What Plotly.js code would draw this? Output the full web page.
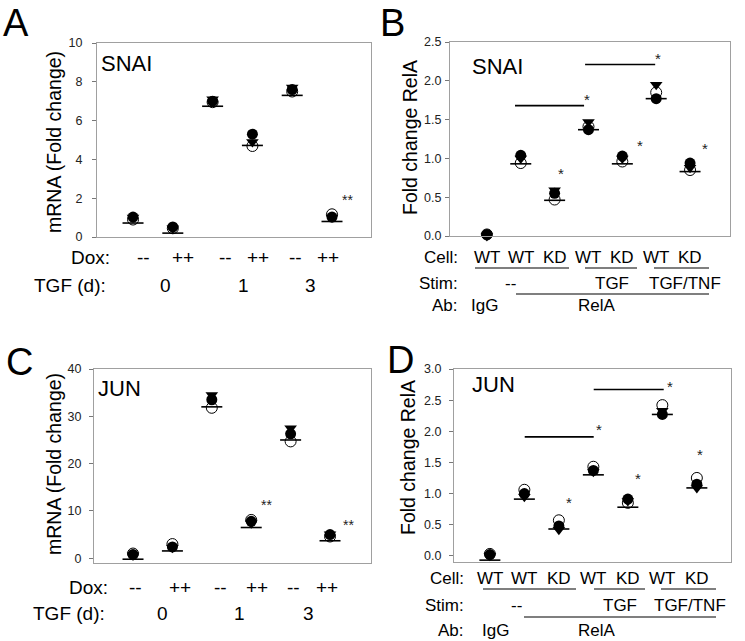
<!DOCTYPE html>
<html><head><meta charset="utf-8">
<script src="https://cdn.plot.ly/plotly-3.0.1.min.js"></script>
<style>html,body{margin:0;padding:0;background:#fff}</style>
</head><body><div id="chart" style="width:745px;height:641px"></div>
<script>
// ---------- categories / tick labels ----------
const doxLabels = ['--', '++', '--', '++', '--', '++'];
const tgfDays = ['0', '1', '3'];
const cellLabels = ['WT', 'WT', 'KD', 'WT', 'KD', 'WT', 'KD'];
const stimLabels = ['--', 'TGF', 'TGF/TNF'];
const abLabels = ['IgG', 'RelA'];
const yTicksA = [0, 2, 4, 6, 8, 10];
const yTicksB = [0, 0.5, 1.0, 1.5, 2.0, 2.5];
const yTicksC = [0, 10, 20, 30, 40];
const yTicksD = [0, 0.5, 1.0, 1.5, 2.0, 2.5, 3.0];

// ---------- Panel A: SNAI mRNA (fold change), replicates ----------
const snaiMrnaFilledCircle = [1.03, 0.52, 7.0, 5.3, 7.6, 1.03];
const snaiMrnaOpenCircle   = [0.9, 0.45, 6.95, 4.69, 7.5, 1.17];
const snaiMrnaTriangle     = [1.0, 0.45, 7.1, 4.9, 7.7, 1.0];
const snaiMrnaBar          = [0.72, 0.2, 6.74, 4.72, 7.3, 0.8];

// ---------- Panel B: SNAI fold change RelA ----------
const snaiRelaFilledCircle = [0.02, 1.04, 0.55, 1.37, 1.03, 1.77, 0.94];
const snaiRelaOpenCircle   = [0.02, 0.94, 0.47, 1.41, 0.96, 1.85, 0.85];
const snaiRelaTriangle     = [0.0, 1.0, 0.59, 1.47, 1.0, 1.95, 0.88];
const snaiRelaBar          = [-0.05, 0.93, 0.46, 1.37, 0.93, 1.77, 0.83];

// ---------- Panel C: JUN mRNA (fold change) ----------
const junMrnaFilledCircle = [0.8, 2.4, 33.5, 7.8, 26.3, 5.0];
const junMrnaOpenCircle   = [1.0, 3.0, 31.8, 8.1, 24.7, 4.6];
const junMrnaTriangle     = [0.6, 2.2, 34.5, 7.4, 27.5, 5.1];
const junMrnaBar          = [-0.2, 1.55, 32.0, 6.5, 25.0, 3.7];

// ---------- Panel D: JUN fold change RelA ----------
const junRelaFilledCircle = [0.02, 1.0, 0.48, 1.37, 0.91, 2.27, 1.15];
const junRelaOpenCircle   = [0.03, 1.06, 0.57, 1.43, 0.85, 2.42, 1.25];
const junRelaTriangle     = [0.0, 0.95, 0.42, 1.35, 0.88, 2.33, 1.09];
const junRelaBar          = [-0.07, 0.91, 0.43, 1.3, 0.78, 2.27, 1.09];

// significance marks: [x (category index), y value, text]
const starsA = [[5.38, 2.06, '**']];
const starsB = [[2.2, 0.85, '*'], [4.53, 1.2, '*'], [6.45, 1.17, '*'], [2.96, 1.80, '*'], [5.06, 2.32, '*']];
const starsC = [[3.4, 11.8, '**'], [5.48, 7.7, '**']];
const starsD = [[2.29, 0.9, '*'], [4.29, 1.29, '*'], [6.09, 1.67, '*'], [3.16, 2.07, '*'], [5.22, 2.77, '*']];
// comparison bars: [x0, x1, y]
const barsB = [[0.83, 2.87, 1.68], [2.9, 4.97, 2.21]];
const barsD = [[1.01, 3.01, 1.91], [3.01, 5.04, 2.67]];

// ---------- helpers ----------
const W = 745, H = 641;
const FONT = 'Liberation Sans, Arial, sans-serif';
const px = x => x / W;
const py = y => 1 - y / H;
const idx = arr => arr.map((_, i) => i);

function panelTraces(xa, ya, cats, open, bar, filled, tri) {
  const x = idx(cats);
  const base = {type: 'scatter', mode: 'markers', xaxis: xa, yaxis: ya, x: x,
                cliponaxis: false, showlegend: false, hoverinfo: 'y'};
  return [
    Object.assign({}, base, {y: open, marker: {symbol: 'circle', size: 11, color: '#fff', line: {color: '#000', width: 1}}}),
    Object.assign({}, base, {y: bar, marker: {symbol: 'line-ew', size: 15, color: '#000', line: {color: '#000', width: 1.6}}}),
    Object.assign({}, base, {y: filled, marker: {symbol: 'circle', size: 11, color: '#000', line: {width: 0}}}),
    Object.assign({}, base, {y: tri, marker: {symbol: 'triangle-down', size: 11, color: '#000', line: {width: 0}}})
  ];
}

const data = [].concat(
  panelTraces('x', 'y', doxLabels, snaiMrnaOpenCircle, snaiMrnaBar, snaiMrnaFilledCircle, snaiMrnaTriangle),
  panelTraces('x2', 'y2', cellLabels, snaiRelaOpenCircle, snaiRelaBar, snaiRelaFilledCircle, snaiRelaTriangle),
  panelTraces('x3', 'y3', doxLabels, junMrnaOpenCircle, junMrnaBar, junMrnaFilledCircle, junMrnaTriangle),
  panelTraces('x4', 'y4', cellLabels, junRelaOpenCircle, junRelaBar, junRelaFilledCircle, junRelaTriangle)
);

function xAxis(domain, range, anchor) {
  return {domain: domain, range: range, anchor: anchor, showline: true, mirror: true,
          linecolor: '#a0a0a0', linewidth: 1, ticks: '', showticklabels: false,
          showgrid: false, zeroline: false, fixedrange: true};
}
function yAxis(domain, range, anchor, tickvals, fmt, standoff) {
  return {domain: domain, range: range, anchor: anchor, showline: true, mirror: true,
          linecolor: '#a0a0a0', linewidth: 1, ticks: 'outside', ticklen: 4, tickcolor: '#777',
          tickvals: tickvals, tickformat: fmt, ticklabelstandoff: standoff,
          tickfont: {family: FONT, size: 12.5, color: '#222'},
          showgrid: false, zeroline: false, fixedrange: true};
}

const layout = {
  width: W, height: H, margin: {l: 0, r: 0, t: 0, b: 0},
  paper_bgcolor: '#fff', plot_bgcolor: '#fff', showlegend: false,
  font: {family: FONT, color: '#000'},
  xaxis:  xAxis([px(97), px(371)], [-0.905, 5.98], 'y'),
  yaxis:  yAxis([py(237), py(43)], [0, 10], 'x', yTicksA, 'd', 7),
  xaxis2: xAxis([px(450), px(730)], [-1.09, 7.18], 'y2'),
  yaxis2: yAxis([py(236), py(42)], [0, 2.5], 'x2', yTicksB, '.1f', 1),
  xaxis3: xAxis([px(94), px(371)], [-0.99, 6.04], 'y3'),
  yaxis3: yAxis([py(563), py(369)], [-1, 40], 'x3', yTicksC, 'd', 5),
  xaxis4: xAxis([px(454), px(731)], [-1.04, 6.99], 'y4'),
  yaxis4: yAxis([py(562), py(369)], [-0.1, 3.0], 'x4', yTicksD, '.1f', 5),
  annotations: [],
  shapes: []
};

const A = layout.annotations, S = layout.shapes;
function txt(text, x, y, size, opts) {
  A.push(Object.assign({text: text, x: px(x), y: py(y), xref: 'paper', yref: 'paper',
    showarrow: false, xanchor: 'center', yanchor: 'middle',
    font: {family: FONT, size: size, color: '#000'}}, opts || {}));
}
function dtxt(text, x, y, xa, ya, size) {
  A.push({text: text, x: x, y: y, xref: xa, yref: ya, showarrow: false,
    xanchor: 'center', yanchor: 'middle', yshift: -3,
    font: {family: FONT, size: size, color: '#222'}});
}
function hline(x0, x1, y, w) {
  S.push({type: 'line', xref: 'paper', yref: 'paper', x0: px(x0), x1: px(x1), y0: py(y), y1: py(y),
    line: {color: '#000', width: w || 1.2}});
}

// Panel letters
txt('A', 16, 23, 38);
txt('B', 393, 23, 38);
txt('C', 19, 362, 38);
txt('D', 400, 360, 38);

// Y-axis titles
txt('mRNA (Fold change)', 54, 142, 19.5, {textangle: -90});
txt('Fold change RelA', 410, 138, 19.5, {textangle: -90});
txt('mRNA (Fold change)', 54, 464, 19.5, {textangle: -90});
txt('Fold change RelA', 408, 458, 19.5, {textangle: -90});

// Gene names
txt('SNAI', 126, 63, 22);
txt('SNAI', 497, 66, 22);
txt('JUN', 120, 388, 22);
txt('JUN', 493, 384, 22);

// Panel A / C x labels
function doxRows(doxX, daysX, yDox, yTgf, doxRight, tgfRight) {
  txt('Dox:', doxRight, yDox, 19, {xanchor: 'right'});
  txt('TGF (d):', tgfRight, yTgf, 19, {xanchor: 'right'});
  doxLabels.forEach((t, i) => txt(t, doxX[i], yDox, 19));
  tgfDays.forEach((t, i) => txt(t, daysX[i], yTgf, 19));
}
doxRows([143, 183, 225, 258, 295, 328], [165, 243, 310], 258, 285, 112, 108);
doxRows([135, 180, 220, 257, 293, 327], [162, 240, 308], 587, 613, 110, 107);

// Panel B / D x labels
function cellRows(xa, labRight, yCell, yCellLine, yStim, yStimLine, yAb, cellLines, stimLine, stimX, abX) {
  txt('Cell:', labRight, yCell, 17, {xanchor: 'right'});
  txt('Stim:', labRight, yStim, 17, {xanchor: 'right'});
  txt('Ab:', labRight, yAb, 17, {xanchor: 'right'});
  cellLabels.forEach((t, i) => A.push({text: t, x: i, y: py(yCell), xref: xa, yref: 'paper',
    showarrow: false, xanchor: 'center', yanchor: 'middle', font: {family: FONT, size: 17, color: '#000'}}));
  cellLines.forEach(l => hline(l[0], l[1], yCellLine));
  hline(stimLine[0], stimLine[1], yStimLine);
  stimLabels.forEach((t, i) => txt(t, stimX[i], yStim, 17));
  abLabels.forEach((t, i) => txt(t, abX[i], yAb, 17));
}
cellRows('x2', 460, 257, 268, 283, 294, 305,
  [[475, 569], [585, 637], [654, 709]], [516, 709], [510, 612, 685], [485, 597]);
cellRows('x4', 466, 578, 589, 605, 617, 630,
  [[483, 576], [594, 645], [661, 716]], [524, 716], [516, 620, 690], [495, 597]);

// significance
starsA.forEach(s => dtxt(s[2], s[0], s[1], 'x', 'y', 14));
starsB.forEach(s => dtxt(s[2], s[0], s[1], 'x2', 'y2', 15));
starsC.forEach(s => dtxt(s[2], s[0], s[1], 'x3', 'y3', 14));
starsD.forEach(s => dtxt(s[2], s[0], s[1], 'x4', 'y4', 15));
barsB.forEach(b => S.push({type: 'line', xref: 'x2', yref: 'y2', x0: b[0], x1: b[1], y0: b[2], y1: b[2], line: {color: '#000', width: 1.6}}));
barsD.forEach(b => S.push({type: 'line', xref: 'x4', yref: 'y4', x0: b[0], x1: b[1], y0: b[2], y1: b[2], line: {color: '#000', width: 1.6}}));

Plotly.newPlot('chart', data, layout, {displayModeBar: false, staticPlot: true});
</script>
</body></html>
